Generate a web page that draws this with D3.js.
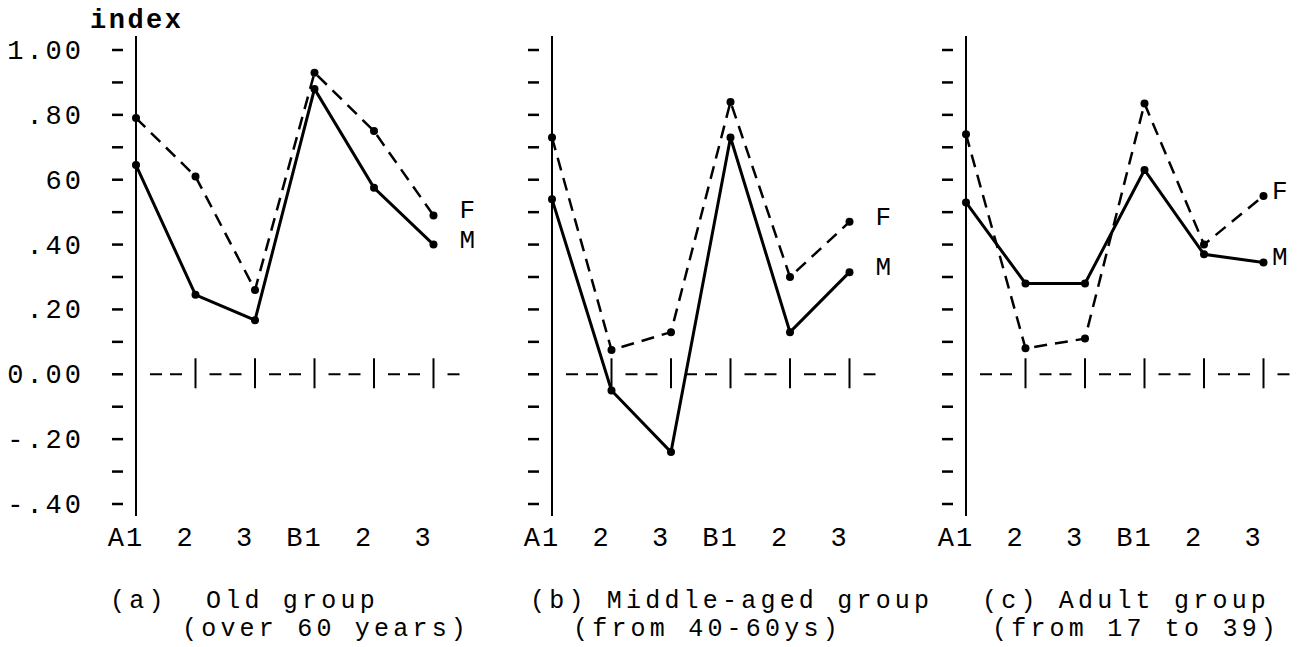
<!DOCTYPE html>
<html>
<head>
<meta charset="utf-8">
<script src="https://cdn.jsdelivr.net/npm/d3@7/dist/d3.min.js"></script>
<style>
  html, body { margin: 0; padding: 0; background: #fff; }
  svg { display: block; }
  text { font-family: "Liberation Mono", "DejaVu Sans Mono", monospace; fill: #000; }
</style>
</head>
<body>
<script>
// ---- data ----
const categories = ["A1", "2", "3", "B1", "2", "3"];
const yTickValues = [1.0, 0.8, 0.6, 0.4, 0.2, 0.0, -0.2, -0.4];
const yTickLabels = ["1.00", ".80", "60", ".40", ".20", "0.00", "-.20", "-.40"];
const panelTitles = ["(a)  Old group", "(b) Middle-aged group", "(c) Adult group"];
const panelSubtitles = ["(over 60 years)", "(from 40-60ys)", "(from 17 to 39)"];
const seriesNames = ["F", "M"];
const oldF = [0.79, 0.61, 0.26, 0.93, 0.75, 0.49];
const oldM = [0.645, 0.245, 0.167, 0.88, 0.575, 0.40];
const midF = [0.73, 0.075, 0.13, 0.84, 0.30, 0.47];
const midM = [0.54, -0.05, -0.24, 0.73, 0.13, 0.315];
const adultF = [0.74, 0.08, 0.11, 0.835, 0.40, 0.55];
const adultM = [0.53, 0.28, 0.28, 0.63, 0.37, 0.345];

const panels = [
  { F: oldF, M: oldM, title: panelTitles[0], sub: panelSubtitles[0] },
  { F: midF, M: midM, title: panelTitles[1], sub: panelSubtitles[1] },
  { F: adultF, M: adultM, title: panelTitles[2], sub: panelSubtitles[2] }
];

// ---- layout ----
const W = 1302, H = 647;
const axisX = [136, 552, 966];
const titleX = [110, 530, 982];
const subX = [182, 573, 992];
const stepX = 59.5;
const FS = "26px";
const svg = d3.select("body").append("svg").attr("width", W).attr("height", H);

const y = d3.scaleLinear().domain([-0.4, 1.0]).range([504, 50]);
const minorTicks = d3.range(-0.4, 1.0001, 0.1);

svg.append("text").attr("x", 90).attr("y", 28)
  .style("font-size", "27px").style("font-weight", "bold").style("letter-spacing", "2.5px")
  .text("index");

panels.forEach((p, pi) => {
  const x0 = axisX[pi];
  const n = categories.length;
  const x = d3.scaleLinear().domain([0, n - 1]).range([x0, x0 + stepX * (n - 1)]);
  const g = svg.append("g");

  // vertical axis line
  g.append("line").attr("x1", x0).attr("x2", x0).attr("y1", 36).attr("y2", 516)
    .attr("stroke", "#000").attr("stroke-width", 2);

  // y ticks (detached dashes left of the axis)
  g.selectAll("line.yt").data(minorTicks).enter().append("line")
    .attr("x1", x0 - 24).attr("x2", x0 - 13)
    .attr("y1", d => y(d)).attr("y2", d => y(d))
    .attr("stroke", "#000").attr("stroke-width", 2.5);

  if (pi === 0) {
    g.selectAll("text.yl").data(yTickValues).enter().append("text")
      .attr("x", 84).attr("y", d => y(d) + 9)
      .attr("text-anchor", "end")
      .style("font-size", "27px").style("letter-spacing", "3px")
      .text((d, i) => yTickLabels[i]);
  }

  // zero reference line: dashed segments between category ticks
  const segs = d3.range(0, n);
  g.selectAll("line.zs").data(segs).enter().append("line")
    .attr("x1", d => x(d) + 14)
    .attr("x2", d => d < n - 1 ? x(d + 1) - 12 : x(d) + 27)
    .attr("y1", y(0)).attr("y2", y(0))
    .attr("stroke", "#000").attr("stroke-width", 2).attr("stroke-dasharray", "12,8");
  g.selectAll("line.zt").data(d3.range(1, n)).enter().append("line")
    .attr("x1", d => x(d)).attr("x2", d => x(d))
    .attr("y1", y(0) - 16).attr("y2", y(0) + 14)
    .attr("stroke", "#000").attr("stroke-width", 2);

  // category labels
  g.selectAll("text.xl").data(categories).enter().append("text")
    .attr("x", (d, i) => x(i) - 10).attr("y", 546)
    .attr("text-anchor", "middle")
    .style("font-size", "27px").style("letter-spacing", "2px")
    .text(d => d);

  // lines
  const line = d3.line().x((d, i) => x(i)).y(d => y(d));
  g.append("path").datum(p.F).attr("d", line)
    .attr("fill", "none").attr("stroke", "#000").attr("stroke-width", 2.5)
    .attr("stroke-dasharray", "13,8");
  g.append("path").datum(p.M).attr("d", line)
    .attr("fill", "none").attr("stroke", "#000").attr("stroke-width", 3);

  // points
  [p.F, p.M].forEach(arr => {
    g.selectAll(null).data(arr).enter().append("circle")
      .attr("cx", (d, i) => x(i)).attr("cy", d => y(d)).attr("r", 4).attr("fill", "#000");
  });

  // series labels
  [p.F, p.M].forEach((arr, si) => {
    g.append("text")
      .attr("x", Math.min(x(n - 1) + 26, W - 30))
      .attr("y", y(arr[arr.length - 1]) + 3)
      .style("font-size", FS)
      .text(seriesNames[si]);
  });

  // titles
  g.append("text").attr("x", titleX[pi]).attr("y", 608)
    .style("font-size", "25px").style("letter-spacing", "4.2px").attr("xml:space", "preserve")
    .text(p.title);
  g.append("text").attr("x", subX[pi]).attr("y", 636)
    .style("font-size", "25px").style("letter-spacing", "4.2px").attr("xml:space", "preserve")
    .text(p.sub);
});
</script>
</body>
</html>
